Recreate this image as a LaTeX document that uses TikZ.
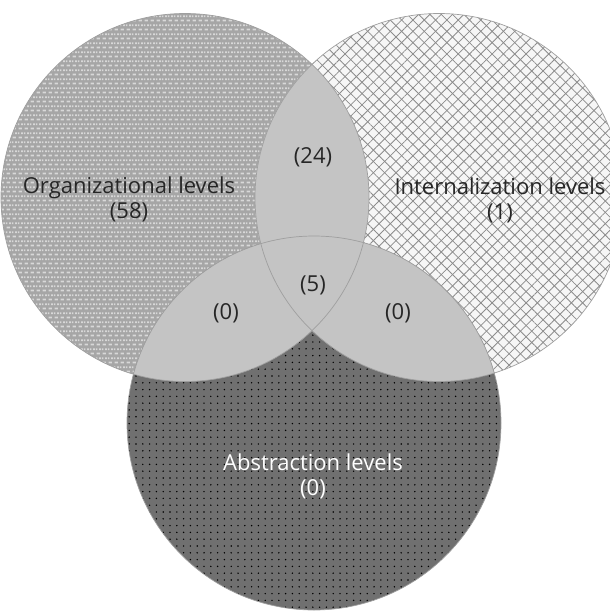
\documentclass[tikz,border=0pt]{standalone}
\usepackage{fontspec}
\setmainfont{Open Sans}
\usetikzlibrary{patterns,patterns.meta}

% light dashes on the grey disc
\pgfdeclarepatternformonly{brickdash}{\pgfpointorigin}{\pgfqpoint{6pt}{8.6pt}}{\pgfqpoint{6pt}{8.6pt}}{
  \pgfpathrectangle{\pgfqpoint{0.7pt}{0.7pt}}{\pgfqpoint{3.8pt}{1.8pt}}
  \pgfpathrectangle{\pgfqpoint{3.7pt}{5pt}}{\pgfqpoint{2.3pt}{1.8pt}}
  \pgfpathrectangle{\pgfqpoint{0pt}{5pt}}{\pgfqpoint{1.5pt}{1.8pt}}
  \pgfusepath{fill}}

\definecolor{orggray}{HTML}{A6A6A6}
\definecolor{orgdash}{HTML}{D8D8D8}
\definecolor{intback}{HTML}{F6F6F6}
\definecolor{intline}{HTML}{8C8C8C}
\definecolor{absgray}{HTML}{707070}
\definecolor{lensgray}{HTML}{C4C4C4}

\newcommand{\orgc}{(185,197.5) circle [radius=184pt]}
\newcommand{\intc}{(439,197.5) circle [radius=184pt]}
\newcommand{\absc}{(314,423) circle [radius=187pt]}

\tikzset{
  lbl/.style={font=\fontsize{22}{25}\selectfont, align=center, text=black!85},
  rim/.style={draw=gray!75, line width=0.7pt},
  lens/.style={fill=lensgray}
}

\begin{document}
\begin{tikzpicture}[x=1pt,y=-1pt]
\useasboundingbox (0,0) rectangle (610,614);
\clip (0,0) rectangle (610,614);
% the three sets
\fill[orggray] \orgc;
\fill[pattern=brickdash, pattern color=orgdash] \orgc;
\fill[intback] \intc;
\fill[pattern={Lines[angle=45,distance=8pt,line width=0.8pt]}, pattern color=intline] \intc;
\fill[pattern={Lines[angle=-45,distance=8pt,line width=0.8pt]}, pattern color=intline] \intc;
\fill[absgray] \absc;
\fill[pattern={Dots[distance=6.8pt,radius=0.8pt]}, pattern color=black] \absc;
% overlaps
\begin{scope}
  \clip \orgc;
  \fill[lens] \intc;
  \fill[lens] \absc;
\end{scope}
\begin{scope}
  \clip \intc;
  \fill[lens] \absc;
\end{scope}
\draw[rim] \orgc;
\draw[rim] \intc;
\draw[rim] \absc;
% labels
\node[lbl] (orgname) at (129,199.5) {Organizational levels\\(58)};
\node[lbl] (intname) at (500,200) {Internalization levels\\(1)};
\node[lbl] (orgint) at (313,157) {(24)};
\node[lbl] (allthree) at (313,285) {(5)};
\node[lbl] (orgabs) at (226,313) {(0)};
\node[lbl] (intabs) at (398,313) {(0)};
\node[lbl, text=white] (absname) at (313,476) {Abstraction levels\\(0)};
\end{tikzpicture}
\end{document}
